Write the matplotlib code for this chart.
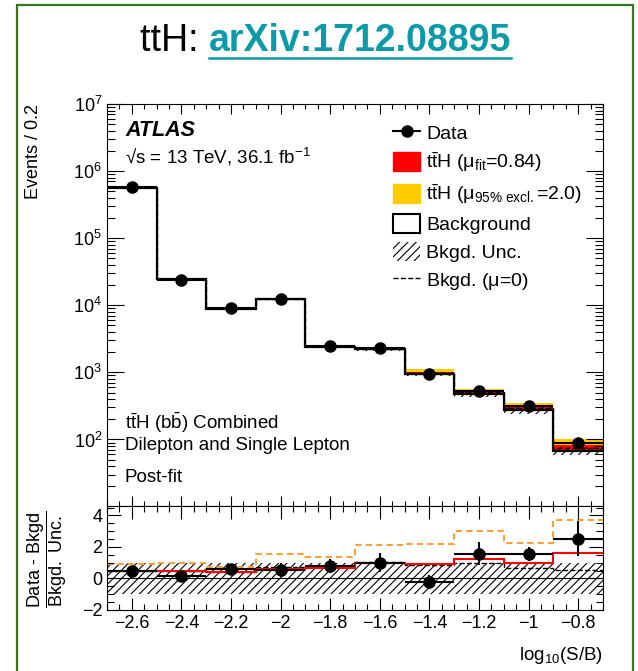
import numpy as np
import matplotlib
matplotlib.use('Agg')
import matplotlib.pyplot as plt
from matplotlib.patches import Patch, Rectangle
from matplotlib.lines import Line2D
from matplotlib.ticker import MultipleLocator, LogLocator, FuncFormatter, NullFormatter, FixedLocator

plt.rcParams['font.family'] = ['Liberation Sans', 'DejaVu Sans']
plt.rcParams['mathtext.fontset'] = 'custom'
plt.rcParams['mathtext.rm'] = 'Liberation Sans'
plt.rcParams['mathtext.it'] = 'Liberation Sans:italic'
plt.rcParams['mathtext.bf'] = 'Liberation Sans:bold'
plt.rcParams['hatch.linewidth'] = 0.8

# binning in log10(S/B)
edges = [-2.7, -2.5, -2.3, -2.1, -1.9, -1.7, -1.5, -1.3, -1.1, -0.9, -0.7]
centers = [-2.6, -2.4, -2.2, -2.0, -1.8, -1.6, -1.4, -1.2, -1.0, -0.8]
decades = [1e2, 1e3, 1e4, 1e5, 1e6, 1e7]

# main panel (events)
data = np.array([5.7e5, 2.4e4, 9.0e3, 1.23e4, 2.46e3, 2.28e3, 955, 521, 316, 88])
data_err = np.array([750, 155, 95, 111, 50, 48, 31, 23, 18, 9.4])
bkg = np.array([5.68e5, 2.45e4, 8.95e3, 1.24e4, 2.42e3, 2.22e3, 945, 479, 277, 68])
tth_fit = np.array([1200, 82, 48, 106, 33, 46, 67, 37, 33, 13.5])      # mu = 0.84
tth_excl = np.array([2860, 196, 114, 252, 78, 110, 160, 89, 78, 32])   # mu = 2.0
bkg_mu0 = np.array([5.7e5, 2.47e4, 9.0e3, 1.25e4, 2.44e3, 2.26e3, 985, 505, 297, 75])
bkg_unc = np.array([0.02, 0.03, 0.03, 0.04, 0.05, 0.06, 0.08, 0.10, 0.12, 0.13])

# ratio panel, (data - bkgd) / bkgd unc
r_data = [0.45, 0.14, 0.62, 0.52, 0.79, 1.0, -0.22, 1.58, 1.56, 2.53]
r_err = [0.06, 0.12, 0.2, 0.45, 0.45, 0.6, 0.45, 0.75, 0.45, 1.12]
r_fit = [0.45, 0.46, 0.38, 0.62, 0.67, 1.01, 0.9, 1.26, 1.01, 1.62]
r_excl = [0.95, 0.97, 0.73, 1.58, 1.37, 2.1, 2.17, 2.99, 2.27, 3.73]
r_mu0 = [0.45, 0.46, 0.4, 0.7, 0.8, 1.07, 0.84, 1.01, 0.69, 0.57]
r_band_hi = [1.0] * 10
r_band_lo = [-1.0] * 10

W, H = 638, 671
fig = plt.figure(figsize=(W / 100, H / 100), dpi=100)

def fx(px):
    return px / W

def fy(py):
    return 1 - py / H

# green slide frame
fig.patches.append(Rectangle((fx(17), -0.1), fx(633) - fx(17), fy(5) + 0.1,
                             transform=fig.transFigure, fill=False,
                             edgecolor='#38761d', lw=1.6))

# title
t1 = fig.text(fx(140), fy(41), 'ttH: ', fontsize=27, va='center', ha='left')
fig.canvas.draw()
bb = t1.get_window_extent()
t2 = fig.text(bb.x1 / W, fy(41), 'arXiv:1712.08895', fontsize=27, weight='bold',
              color='#0b9aa8', va='center', ha='left')
fig.canvas.draw()
bb2 = t2.get_window_extent()
fig.add_artist(Line2D([bb2.x0 / W, bb2.x1 / W], [(bb2.y0 + 1) / H] * 2,
                      color='#0b9aa8', lw=1.8, transform=fig.transFigure))

ax = fig.add_axes([fx(107), fy(506), fx(603) - fx(107), (506 - 104) / H])
ax2 = fig.add_axes([fx(107), fy(610), fx(603) - fx(107), (610 - 506) / H], sharex=ax)

# ---- main panel
ax.set_yscale('log')
ax.stairs(bkg + tth_excl, edges, baseline=bkg, fill=True, color='#ffcc00', lw=0)
ax.stairs(bkg + tth_fit, edges, baseline=bkg, fill=True, color='#ff0000', lw=0)
ax.stairs(bkg * (1 + bkg_unc), edges, baseline=bkg * (1 - bkg_unc), fill=True,
          facecolor='none', edgecolor='k', hatch='////', lw=0)
ax.stairs(bkg, edges, baseline=None, color='k', lw=1.6)
ax.stairs(bkg_mu0, edges, baseline=None, color='k', ls='--', lw=1)
ax.errorbar(centers, data, yerr=data_err, xerr=0.1, fmt='o', color='k', ms=8,
            lw=1.5, capsize=0)
ax.set_xlim(-2.7, -0.7)
ax.set_ylim(10.2, 1e7)
ax.yaxis.set_major_locator(FixedLocator(decades))
ax.yaxis.set_minor_locator(LogLocator(base=10, subs=np.arange(2, 10), numticks=20))
ax.yaxis.set_minor_formatter(NullFormatter())
ax.xaxis.set_major_locator(MultipleLocator(0.2))
ax.xaxis.set_minor_locator(MultipleLocator(0.05))
ax.tick_params(which='both', direction='in', top=True, right=True,
               labelbottom=False, labelsize=13, width=0.8)
ax.tick_params(axis='y', which='major', length=12)
ax.tick_params(axis='y', which='minor', length=6)
ax.tick_params(axis='x', which='major', length=7)
ax.tick_params(axis='x', which='minor', length=3.5)

handles = [Line2D([], [], color='k', marker='o', ms=8, lw=1.5),
           Patch(facecolor='#ff0000', edgecolor='#ff0000'),
           Patch(facecolor='#ffcc00', edgecolor='#ffcc00'),
           Patch(facecolor='white', edgecolor='k', lw=1.5),
           Patch(facecolor='white', edgecolor='k', hatch='////', lw=0),
           Line2D([], [], color='k', ls='--', lw=1)]
labels = ['Data',
          r't$\bar{\mathrm{t}}$H ($\mathrm{\mu_{fit}}$=0.84)',
          r't$\bar{\mathrm{t}}$H ($\mathrm{\mu_{95\%\ excl.}}$=2.0)',
          'Background',
          'Bkgd. Unc.',
          r'Bkgd. ($\mathrm{\mu}$=0)']
ax.legend(handles, labels, loc='upper left', bbox_to_anchor=(0.577, 0.953),
          frameon=False, fontsize=14, handlelength=1.4, handleheight=1.1,
          handletextpad=0.3, labelspacing=0.41, borderaxespad=0, borderpad=0)

fig.text(fx(125), fy(131), 'ATLAS', weight='bold', style='italic', fontsize=15.5, va='center')
fig.text(fx(125), fy(157), '\u221as = 13 TeV, 36.1 fb$^{-1}$', fontsize=13.5, va='center')
fig.text(fx(125), fy(423), r't$\bar{\mathrm{t}}$H (b$\bar{\mathrm{b}}$) Combined', fontsize=13.5, va='center')
fig.text(fx(125), fy(445), 'Dilepton and Single Lepton', fontsize=13.5, va='center')
fig.text(fx(125), fy(478), 'Post-fit', fontsize=13.5, va='center')
fig.text(fx(34), fy(104), 'Events / 0.2', rotation=90, ha='center', va='top', fontsize=13)

# ---- ratio panel
ax2.stairs(r_band_hi, edges, baseline=r_band_lo, fill=True, facecolor='none',
           edgecolor='k', hatch='////', lw=0)
ax2.axhline(0, color='k', lw=0.8)
ax2.stairs(r_excl, edges, baseline=None, color='#f7a040', ls=(0, (3, 2)), lw=1.5)
ax2.stairs(r_mu0, edges, baseline=None, color='k', ls='--', lw=1)
ax2.stairs(r_fit, edges, baseline=None, color='#ff0000', lw=1.5)
ax2.errorbar(centers, r_data, yerr=r_err, xerr=0.1, fmt='o', color='k', ms=8,
             lw=1.5, capsize=0)
ax2.set_ylim(-2, 4.6)
ax2.yaxis.set_major_locator(MultipleLocator(2))
ax2.yaxis.set_minor_locator(MultipleLocator(0.5))
fmt = FuncFormatter(lambda v, p: ('%g' % v).replace('-', '\u2212'))
ax2.xaxis.set_major_formatter(fmt)
ax2.yaxis.set_major_formatter(fmt)
ax2.tick_params(which='both', direction='in', top=True, right=True, labelsize=13, width=0.8)
ax2.tick_params(axis='y', which='major', length=10)
ax2.tick_params(axis='y', which='minor', length=5)
ax2.tick_params(axis='x', which='major', length=9)
ax2.tick_params(axis='x', which='minor', length=4.5)

fig.text(fx(47), fy(559), r'$\dfrac{\mathrm{Data\ \text{-}\ Bkgd}}{\mathrm{Bkgd.\ Unc.}}$',
         rotation=90, ha='center', va='center', fontsize=13)
fig.text(fx(603), fy(655), r'log$_{10}$(S/B)', ha='right', va='center', fontsize=13.5)

fig.savefig('out.png', dpi=100)
